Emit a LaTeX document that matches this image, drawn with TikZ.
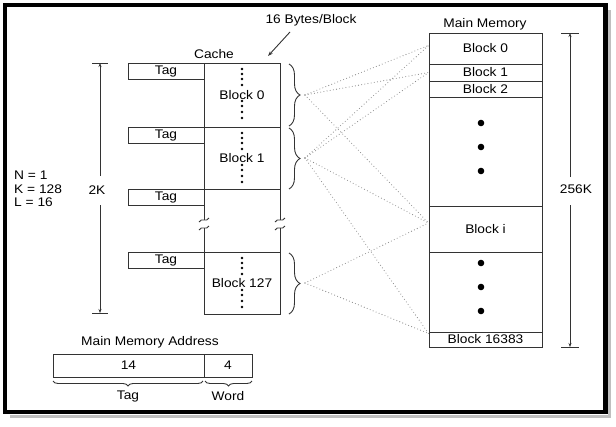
\documentclass[tikz,border=0pt]{standalone}
\usepackage{fontspec}
\setmainfont{Liberation Sans}[FakeStretch=1.1]
\usetikzlibrary{arrows.meta,decorations.pathreplacing,calc}
\begin{document}
\begin{tikzpicture}[x=1pt,y=-1pt,
  every node/.style={font=\fontsize{12.5}{14}\selectfont, text=black},
  ln/.style={draw=black!80, line width=0.9pt},
  cbox/.style={ln, rectangle, inner sep=0pt, minimum width=76pt},
  mbox/.style={ln, rectangle, inner sep=0pt, minimum width=113pt},
  conn/.style={draw=black!45, line width=1.1pt, line cap=round, dash pattern=on 0pt off 3.2pt},
  brc/.style={ln, decorate, decoration={brace, amplitude=11pt}},
  brcm/.style={ln, decorate, decoration={brace, mirror, amplitude=5pt}},
  tip/.style={-{Stealth[length=4pt,width=3pt]}},
  lbl/.style={inner sep=1pt}]
\useasboundingbox (0,0) rectangle (616,426);

% ---------------- cache ----------------
\node[lbl] (cachelbl) at (214,54) {Cache};
\node[cbox, minimum height=64pt] (c0) at (242,95) {Block 0};
\node[cbox, minimum height=62pt] (c1) at (242,158) {Block 1};
\node[cbox, minimum height=62pt] (c127) at (242,283) {Block 127};
\node[cbox, minimum height=16pt] (t0) at (166,71) {Tag};
\node[cbox, minimum height=16pt] (t1) at (166,135) {Tag};
\node[cbox, minimum height=16pt] (t2) at (166,197) {Tag};
\node[cbox, minimum height=16pt] (t127) at (166,260) {Tag};

% dot columns in cache blocks
\foreach \T in {63,127,252}{
  \foreach \d in {6,11,16,22,38,43,49,55}{
    \fill (242,{\T+\d}) circle (1.3pt);
  }
}

% broken cache walls
\foreach \x in {204,280}{
  \draw[ln] (\x,189) -- (\x,220);
  \draw[ln] (\x,228) -- (\x,252);
  \draw[ln] (\x-5,222) .. controls (\x-2,217) and (\x+2,223) .. (\x+5,218);
  \draw[ln] (\x-5,230) .. controls (\x-2,225) and (\x+2,231) .. (\x+5,226);
}

% braces beside cache blocks
\draw[brc] (289,64) -- (289,126);
\draw[brc] (289,128) -- (289,189);
\draw[brc] (289,253) -- (289,314);
\coordinate (b0) at (305,95);
\coordinate (b1) at (305,158);
\coordinate (b127) at (305,283);

% 16 Bytes/Block
\node[lbl] (bytes) at (311,20) {16 Bytes/Block};
\coordinate (ba) at (290,32);
\coordinate (bb) at (268,56);
\draw[ln, -{Stealth[length=5pt,width=3.5pt]}] (ba) -- (bb);

% 2K dimension
\node[lbl] (k2) at (97,190) {2K};
\coordinate (k2top) at (100,63);
\coordinate (k2bot) at (100,313);
\draw[ln] (92,63) -- (108,63);
\draw[ln] (92,313) -- (108,313);
\draw[ln, tip] (100,176) -- (k2top);
\draw[ln, tip] (100,205) -- (k2bot);

\node[lbl, anchor=west] (nn) at (13,175) {N = 1};
\node[lbl, anchor=west] (kk) at (13,189) {K = 128};
\node[lbl, anchor=west] (ll) at (13,202) {L = 16};

% ---------------- main memory ----------------
\node[lbl] (mmlbl) at (485,24) {Main Memory};
\node[mbox, minimum height=31pt] (m0) at (485.5,48.5) {Block 0};
\node[mbox, minimum height=17pt] (m1) at (485.5,72.5) {Block 1};
\node[mbox, minimum height=16pt] (m2) at (485.5,89) {Block 2};
\node[mbox, minimum height=109pt] (md1) at (485.5,151.5) {};
\node[mbox, minimum height=46pt] (mi) at (485.5,229) {Block i};
\node[mbox, minimum height=80pt] (md2) at (485.5,292) {};
\node[mbox, minimum height=15pt] (mn) at (485.5,339.5) {Block 16383};
\foreach \y in {123,147,171,263,287,311}{
  \fill (481,\y) circle (3.3pt);
}

% 256K dimension
\node[lbl] (k256) at (576,189) {256K};
\coordinate (mtop) at (570,33);
\coordinate (mbot) at (570,347);
\draw[ln] (561,33) -- (579,33);
\draw[ln] (561,347) -- (579,347);
\draw[ln, tip] (570,177) -- (mtop);
\draw[ln, tip] (570,205) -- (mbot);

% ---------------- connectors ----------------
\draw[conn] (b0) -- ([yshift=3pt]m0.west);
\draw[conn] (b0) -- (m1.west);
\draw[conn] (b0) -- ([yshift=6pt]mi.west);
\draw[conn] (b1) -- ([yshift=3pt]m0.west);
\draw[conn] (b1) -- (m1.west);
\draw[conn] (b1) -- ([yshift=6pt]mi.west);
\draw[conn] (b1) -- ([yshift=6pt]mn.west);
\draw[conn] (b127) -- ([yshift=6pt]mi.west);
\draw[conn] (b127) -- ([yshift=6pt]mn.west);

% ---------------- address ----------------
\node[lbl] (addrlbl) at (150,342) {Main Memory Address};
\node[cbox, minimum width=151pt, minimum height=23pt] (atag) at (128.5,365.5) {14};
\node[cbox, minimum width=48pt, minimum height=23pt] (aword) at (228,365.5) {4};
\draw[brcm] (53,381) -- (203,381);
\draw[brcm] (205,381) -- (252,381);
\node[lbl] (tagl) at (128,396) {Tag};
\node[lbl] (wordl) at (228,396) {Word};

% ---------------- frame ----------------
\draw[line width=3pt, black!25] (609,10) -- (609,416.5) -- (10,416.5);
\draw[line width=4.5pt] (5,5) rectangle (605.5,412);
\end{tikzpicture}
\end{document}
